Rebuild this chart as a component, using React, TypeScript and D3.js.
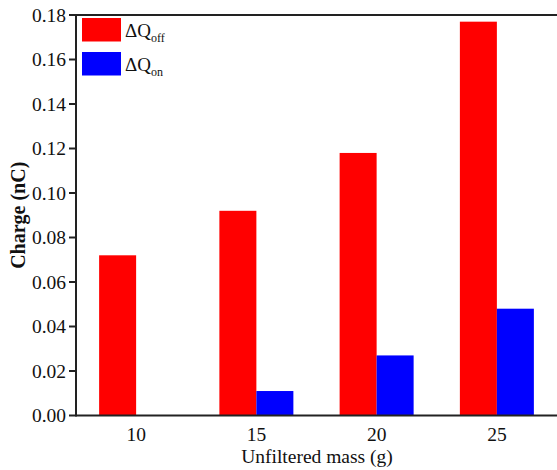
import React from "react";
import * as d3 from "d3";

// Unfiltered mass categories (g) and measured charge (nC)
const masses = ["10", "15", "20", "25"];
const dQoff = [0.072, 0.092, 0.118, 0.177];
const dQon = [0.0, 0.011, 0.027, 0.048];
const yTicks = [0, 0.02, 0.04, 0.06, 0.08, 0.1, 0.12, 0.14, 0.16, 0.18];

const seriesNames = ["off", "on"];
const seriesColors = ["#ff0000", "#0000ff"];

const W = 557;
const H = 470;
const margin = { left: 76, right: 0, top: 15, bottom: 54.5 };
const font = "'Liberation Serif', 'Times New Roman', serif";

export default function App() {
  const innerBottom = H - margin.bottom;
  const x = d3
    .scalePoint<string>()
    .domain(masses)
    .range([margin.left, W - margin.right])
    .padding(0.5);
  const barW = 37;
  const xs = d3
    .scaleBand<string>()
    .domain(seriesNames)
    .range([-barW, barW])
    .padding(0);
  const y = d3.scaleLinear().domain([0, 0.18]).range([innerBottom, margin.top]);

  const data = seriesNames.map((s, i) => ({
    name: s,
    color: seriesColors[i],
    values: i === 0 ? dQoff : dQon,
  }));

  const axisColor = "#222";

  return (
    <svg width={W} height={H} style={{ position: "absolute", left: 0, top: 0, background: "#fff" }}>
      {/* bars */}
      {data.map((s) =>
        s.values.map((v, j) => (
          <rect
            key={s.name + j}
            x={(x(masses[j]) as number) + (xs(s.name) as number)}
            y={y(v)}
            width={xs.bandwidth()}
            height={innerBottom - y(v)}
            fill={s.color}
          />
        ))
      )}

      {/* frame */}
      <line x1={margin.left} x2={W} y1={margin.top} y2={margin.top} stroke={axisColor} strokeWidth={2} />
      <line x1={margin.left} x2={W} y1={innerBottom} y2={innerBottom} stroke={axisColor} strokeWidth={2} />
      <line x1={margin.left} x2={margin.left} y1={margin.top - 1} y2={innerBottom + 1} stroke={axisColor} strokeWidth={2} />

      {/* y ticks */}
      {yTicks.map((t) => (
        <g key={t}>
          <line x1={margin.left - 7} x2={margin.left} y1={y(t)} y2={y(t)} stroke={axisColor} strokeWidth={2} />
          <text
            x={margin.left - 10}
            y={y(t)}
            dy="0.35em"
            textAnchor="end"
            fontFamily={font}
            fontSize={19.5}
            fill="#111"
          >
            {d3.format(".2f")(t)}
          </text>
        </g>
      ))}

      {/* x tick labels */}
      {masses.map((m) => (
        <text
          key={m}
          x={x(m) as number}
          y={innerBottom + 25}
          textAnchor="middle"
          fontFamily={font}
          fontSize={19.5}
          fill="#111"
        >
          {m}
        </text>
      ))}

      {/* axis titles */}
      <text
        x={317}
        y={463}
        textAnchor="middle"
        fontFamily={font}
        fontSize={19.5}
        fill="#111"
      >
        Unfiltered mass (g)
      </text>
      <text
        transform={`translate(25, ${(margin.top + innerBottom) / 2}) rotate(-90)`}
        textAnchor="middle"
        fontFamily={font}
        fontSize={20}
        fontWeight="bold"
        fill="#111"
      >
        Charge (nC)
      </text>

      {/* legend */}
      {data.map((s, i) => (
        <g key={s.name} transform={`translate(82, ${18 + i * 34})`}>
          <rect x={0} y={0} width={39} height={23.5} fill={s.color} />
          <text x={43} y={19} fontFamily={font} fontSize={19} fill="#111">
            ΔQ
            <tspan fontSize={12} dy={5}>
              {s.name}
            </tspan>
          </text>
        </g>
      ))}
    </svg>
  );
}
